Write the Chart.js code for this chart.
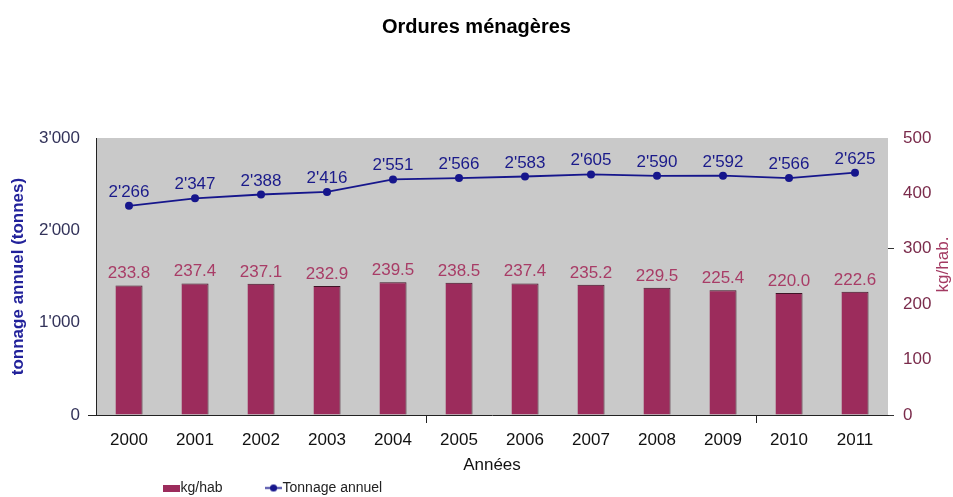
<!DOCTYPE html>
<html>
<head>
<meta charset="utf-8">
<script src="https://cdn.jsdelivr.net/npm/chart.js@4/dist/chart.umd.min.js"></script>
<style>
html,body{margin:0;padding:0;background:#fff;}
canvas{display:block;}
</style>
</head>
<body>
<canvas id="c" width="953" height="497"></canvas>
<script>
const categories = ['2000','2001','2002','2003','2004','2005','2006','2007','2008','2009','2010','2011'];
const kgHab = [233.8, 237.4, 237.1, 232.9, 239.5, 238.5, 237.4, 235.2, 229.5, 225.4, 220.0, 222.6];
const tonnage = [2266, 2347, 2388, 2416, 2551, 2566, 2583, 2605, 2590, 2592, 2566, 2625];
const leftTicks = [0, 1000, 2000, 3000];
const rightTicks = [0, 100, 200, 300, 400, 500];

const FONT = "'Liberation Sans', Arial, sans-serif";
const BAR_COLOR = '#9c2c5c';
const LINE_COLOR = '#16168c';

function fmtThousands(v) {
  const s = Math.round(v).toString();
  return s.replace(/\B(?=(\d{3})+(?!\d))/g, "'");
}

// legend marker images
function makeBarMarker() {
  const c = document.createElement('canvas');
  c.width = 17; c.height = 7;
  const g = c.getContext('2d');
  g.fillStyle = BAR_COLOR; g.fillRect(0, 0, 17, 7);
  return c;
}
function makeLineMarker() {
  const c = document.createElement('canvas');
  c.width = 17; c.height = 9;
  const g = c.getContext('2d');
  g.strokeStyle = LINE_COLOR; g.lineWidth = 1.6;
  g.beginPath(); g.moveTo(0, 4.5); g.lineTo(17, 4.5); g.stroke();
  g.fillStyle = LINE_COLOR;
  g.beginPath(); g.arc(8.5, 4.5, 3.6, 0, Math.PI * 2); g.fill();
  return c;
}
const barMarker = makeBarMarker();
const lineMarker = makeLineMarker();

const plotBg = {
  id: 'plotBg',
  beforeDraw(chart) {
    const {ctx, chartArea: a} = chart;
    ctx.save();
    ctx.fillStyle = '#c9c9c9';
    ctx.fillRect(a.left, a.top, a.right - a.left, a.bottom - a.top);
    ctx.restore();
  }
};

const valueLabels = {
  id: 'valueLabels',
  afterDatasetsDraw(chart) {
    const ctx = chart.ctx;
    ctx.save();
    ctx.font = '17px ' + FONT;
    ctx.textAlign = 'center';
    ctx.textBaseline = 'alphabetic';
    chart.data.datasets.forEach((ds, di) => {
      const meta = chart.getDatasetMeta(di);
      meta.data.forEach((el, i) => {
        const v = ds.data[i];
        if (ds.type === 'bar') {
          ctx.fillStyle = '#a83c66';
          ctx.fillText(v.toFixed(1), el.x, el.y - 7);
        } else {
          ctx.fillStyle = '#1a1a8a';
          ctx.fillText(fmtThousands(v), el.x, el.y - 9);
        }
      });
    });
    ctx.restore();
  }
};

const rightTitle = {
  id: 'rightTitle',
  afterDraw(chart) {
    const ctx = chart.ctx;
    const a = chart.chartArea;
    ctx.save();
    ctx.translate(943, (a.top + a.bottom) / 2 - 12);
    ctx.rotate(-Math.PI / 2);
    ctx.font = '17px ' + FONT;
    ctx.fillStyle = '#a33a62';
    ctx.textAlign = 'center';
    ctx.textBaseline = 'middle';
    ctx.fillText('kg/hab.', 0, 0);
    ctx.restore();
  }
};

const legendPos = {
  id: 'legendPos',
  afterLayout(chart) {
    const l = chart.legend;
    if (!l) return;
    l.left = 120.5;
    l.top = 432;
  }
};

new Chart(document.getElementById('c'), {
  data: {
    labels: categories,
    datasets: [
      {
        type: 'line',
        label: 'Tonnage annuel',
        data: tonnage,
        yAxisID: 'y',
        borderColor: LINE_COLOR,
        backgroundColor: LINE_COLOR,
        borderWidth: 1.8,
        pointRadius: 4,
        pointBackgroundColor: LINE_COLOR,
        pointBorderWidth: 0,
        tension: 0,
        order: 0
      },
      {
        type: 'bar',
        label: 'kg/hab',
        data: kgHab,
        yAxisID: 'y2',
        backgroundColor: BAR_COLOR,
        borderColor: '#3e1426',
        borderWidth: {top: 1, right: 1, left: 0, bottom: 0},
        borderSkipped: 'start',
        barPercentage: 0.41,
        categoryPercentage: 1.0,
        order: 1
      }
    ]
  },
  options: {
    responsive: false,
    animation: false,
    devicePixelRatio: 1,
    layout: {padding: 0},
    plugins: {
      title: {
        display: true,
        text: 'Ordures ménagères',
        color: '#000',
        font: {family: FONT, size: 20, weight: 'bold'},
        padding: {top: 15, bottom: 99}
      },
      legend: {
        display: true,
        position: 'bottom',
        align: 'start',
        maxHeight: 20,
        labels: {
          usePointStyle: true,
          pointStyleWidth: 4,
          padding: 49,
          color: '#222',
          font: {family: FONT, size: 14},
          generateLabels(chart) {
            return [
              {text: 'kg/hab', pointStyle: barMarker, fillStyle: BAR_COLOR, strokeStyle: BAR_COLOR, lineWidth: 0, datasetIndex: 1, hidden: false, fontColor: '#222'},
              {text: 'Tonnage annuel', pointStyle: lineMarker, fillStyle: LINE_COLOR, strokeStyle: LINE_COLOR, lineWidth: 0, datasetIndex: 0, hidden: false, fontColor: '#222'}
            ];
          }
        }
      },
      tooltip: {enabled: false}
    },
    scales: {
      x: {
        type: 'category',
        offset: true,
        afterFit(s) { s.height = 62; },
        grid: {
          display: true,
          offset: true,
          drawOnChartArea: false,
          drawTicks: true,
          tickLength: 8,
          color: (c) => (c.index === 5 || c.index === 10) ? '#222' : 'rgba(0,0,0,0)'
        },
        border: {display: true, color: '#222', width: 1},
        ticks: {
          color: '#111',
          font: {family: FONT, size: 17},
          padding: 7,
          maxRotation: 0,
          autoSkip: false
        },
        title: {
          display: true,
          text: 'Années',
          color: '#111',
          font: {family: FONT, size: 17},
          padding: {top: 0, bottom: 1}
        }
      },
      y: {
        type: 'linear',
        position: 'left',
        min: 0,
        max: 3000,
        afterFit(s) { s.width = 96; },
        afterBuildTicks(s) { s.ticks = leftTicks.map(v => ({value: v})); },
        grid: {
          display: true,
          drawOnChartArea: false,
          drawTicks: true,
          tickLength: 8,
          color: (c) => (c.tick && c.tick.value === 0) ? '#222' : 'rgba(0,0,0,0)'
        },
        border: {display: true, color: '#222', width: 1},
        ticks: {
          color: '#33335a',
          font: {family: FONT, size: 17},
          padding: 8,
          callback: (v) => v === 0 ? '0' : fmtThousands(v)
        },
        title: {
          display: true,
          text: 'tonnage annuel (tonnes)',
          color: '#22229a',
          font: {family: FONT, size: 17, weight: 'bold'},
          padding: {top: 8, bottom: 0}
        }
      },
      y2: {
        type: 'linear',
        position: 'right',
        min: 0,
        max: 500,
        afterFit(s) { s.width = 65; },
        afterBuildTicks(s) { s.ticks = rightTicks.map(v => ({value: v})); },
        grid: {
          display: true,
          drawOnChartArea: false,
          drawTicks: true,
          tickLength: 6,
          color: (c) => (c.tick && (c.tick.value === 0 || c.tick.value === 300)) ? '#333' : 'rgba(0,0,0,0)'
        },
        border: {display: false},
        ticks: {
          color: '#7a2b4b',
          font: {family: FONT, size: 17},
          padding: 9,
          callback: (v) => String(v)
        }
      }
    }
  },
  plugins: [plotBg, valueLabels, rightTitle, legendPos]
});
</script>
</body>
</html>
